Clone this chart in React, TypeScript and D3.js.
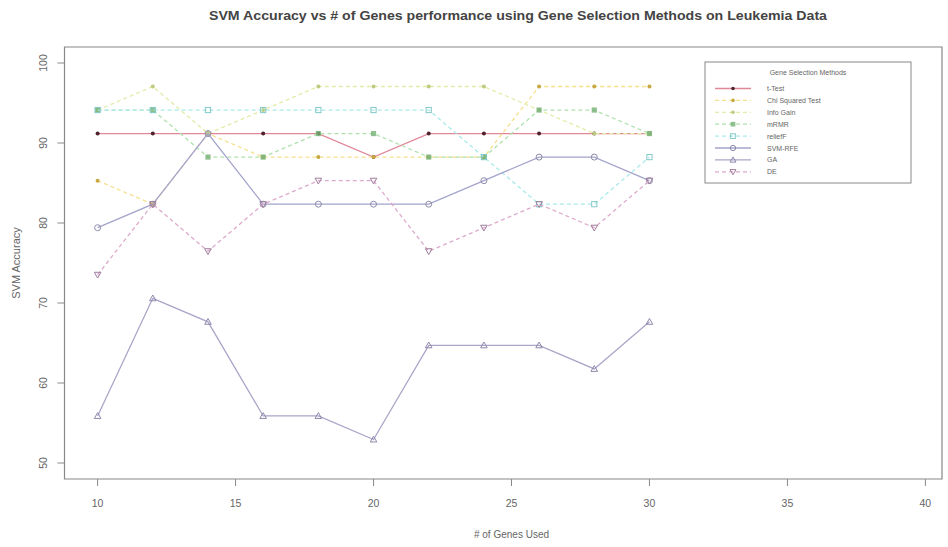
import React from "react";
import * as d3 from "d3";

const genes = [10, 12, 14, 16, 18, 20, 22, 24, 26, 28, 30];
const methods = ["t-Test", "Chi Squared Test", "Info Gain", "mRMR", "reliefF", "SVM-RFE", "GA", "DE"];

const tTest = [91.18, 91.18, 91.18, 91.18, 91.18, 88.24, 91.18, 91.18, 91.18, 91.18, 91.18];
const chiSquared = [85.29, 82.35, 91.18, 88.24, 88.24, 88.24, 88.24, 88.24, 97.06, 97.06, 97.06];
const infoGain = [94.12, 97.06, 91.18, 94.12, 97.06, 97.06, 97.06, 97.06, 94.12, 91.18, 91.18];
const mrmr = [94.12, 94.12, 88.24, 88.24, 91.18, 91.18, 88.24, 88.24, 94.12, 94.12, 91.18];
const relieff = [94.12, 94.12, 94.12, 94.12, 94.12, 94.12, 94.12, 88.24, 82.35, 82.35, 88.24];
const svmRfe = [79.41, 82.35, 91.18, 82.35, 82.35, 82.35, 82.35, 85.29, 88.24, 88.24, 85.29];
const ga = [55.88, 70.59, 67.65, 55.88, 55.88, 52.94, 64.71, 64.71, 64.71, 61.76, 67.65];
const de = [73.53, 82.35, 76.47, 82.35, 85.29, 85.29, 76.47, 79.41, 82.35, 79.41, 85.29];

const seriesValues = [tTest, chiSquared, infoGain, mrmr, relieff, svmRfe, ga, de];

const xTicks = [10, 15, 20, 25, 30, 35, 40];
const yTicks = [50, 60, 70, 80, 90, 100];

const lineColors = ["#e08898", "#f5e08c", "#e2eca8", "#b0e2b0", "#aaeaea", "#a4a4cc", "#aca4c8", "#ddaacc"];
const markerColors = ["#50222f", "#c8a840", "#bccc80", "#74b074", "#84c8c8", "#8c8cac", "#9088ac", "#a07c9c"];
const dashes = [null, "4,3", "4,3", "4,3", "4,3", null, null, "4,3"];
const shapes = ["dot", "dot", "dot", "fsquare", "square", "circle", "triangle", "dtriangle"];

function Marker({ shape, cx, cy, color, s = 1 }: any) {
  const r = 3 * s;
  if (shape === "dot") return <circle cx={cx} cy={cy} r={2 * s} fill={color} />;
  if (shape === "fsquare")
    return <rect x={cx - 2.6 * s} y={cy - 2.6 * s} width={5.2 * s} height={5.2 * s} fill={color} opacity={0.8} />;
  if (shape === "square")
    return <rect x={cx - 2.6 * s} y={cy - 2.6 * s} width={5.2 * s} height={5.2 * s} fill="none" stroke={color} strokeWidth={1} />;
  if (shape === "circle") return <circle cx={cx} cy={cy} r={r} fill="none" stroke={color} strokeWidth={1} />;
  const h = r * 1.1;
  if (shape === "triangle")
    return (
      <path d={`M${cx},${cy - h} L${cx + h},${cy + h * 0.75} L${cx - h},${cy + h * 0.75} Z`} fill="none" stroke={color} strokeWidth={1} />
    );
  return (
    <path d={`M${cx},${cy + h} L${cx + h},${cy - h * 0.75} L${cx - h},${cy - h * 0.75} Z`} fill="none" stroke={color} strokeWidth={1} />
  );
}

export default function App() {
  const W = 948;
  const H = 547;
  const x = d3.scaleLinear().domain([8.8, 41.2]).range([64.5, 958.5]);
  const y = d3.scaleLinear().domain([48, 102]).range([479, 47]);
  const line = d3
    .line<number>()
    .x((_, i) => x(genes[i]))
    .y((v) => y(v));

  const plotTop = y(102);
  const plotBottom = y(48);
  const plotLeft = x(8.8);
  const plotRight = 942;
  const axisColor = "#888";
  const textColor = "#666";
  const font = "'Liberation Sans', Arial, sans-serif";

  const legX = 705;
  const legY = 62;
  const legRow0 = 88.5;
  const legStep = 11.9;

  return (
    <svg width={W} height={H} style={{ position: "absolute", left: 0, top: 0, background: "#fff" }} fontFamily={font}>
      <rect x={0} y={0} width={W} height={H} fill="#fff" />
      <text x={518} y={20} textAnchor="middle" fontSize={12} fontWeight="bold" fill="#444" textLength={618} lengthAdjust="spacingAndGlyphs">
        SVM Accuracy vs # of Genes performance using Gene Selection Methods on Leukemia Data
      </text>

      <path
        d={`M${plotLeft},${plotTop} H${plotRight} V${plotBottom} H${plotLeft} Z`}
        fill="none"
        stroke={axisColor}
        strokeWidth={1.2}
      />

      {yTicks.map((t) => (
        <g key={"y" + t}>
          <line x1={plotLeft - 7} x2={plotLeft} y1={y(t)} y2={y(t)} stroke={axisColor} strokeWidth={1} />
          <text transform={`translate(${47},${y(t)}) rotate(-90)`} textAnchor="middle" fontSize={10.5} fill={textColor}>
            {t}
          </text>
        </g>
      ))}
      <text transform={`translate(20,${(plotTop + plotBottom) / 2}) rotate(-90)`} textAnchor="middle" fontSize={11} fill={textColor}>
        SVM Accuracy
      </text>

      {xTicks.map((t) => (
        <g key={"x" + t}>
          <line x1={x(t)} x2={x(t)} y1={plotBottom} y2={plotBottom + 7} stroke={axisColor} strokeWidth={1} />
          <text x={x(t)} y={507} textAnchor="middle" fontSize={10.5} fill={textColor}>
            {t}
          </text>
        </g>
      ))}
      <text x={x(25)} y={538} textAnchor="middle" fontSize={10} fill={textColor}>
        # of Genes Used
      </text>

      {seriesValues.map((vals, si) => (
        <g key={"s" + si}>
          <path
            d={line(vals) || ""}
            fill="none"
            stroke={lineColors[si]}
            strokeWidth={1.3}
            strokeDasharray={dashes[si] || undefined}
          />
          {vals.map((v, i) => (
            <Marker key={i} shape={shapes[si]} cx={x(genes[i])} cy={y(v)} color={markerColors[si]} />
          ))}
        </g>
      ))}

      <rect x={legX} y={legY} width={206} height={121} fill="#fff" stroke={axisColor} strokeWidth={1} />
      <text x={808} y={75} textAnchor="middle" fontSize={7} fill={textColor}>
        Gene Selection Methods
      </text>
      {methods.map((m, i) => {
        const ly = legRow0 + i * legStep;
        return (
          <g key={"l" + m}>
            <line
              x1={715}
              x2={751}
              y1={ly}
              y2={ly}
              stroke={lineColors[i]}
              strokeWidth={1.3}
              strokeDasharray={dashes[i] || undefined}
            />
            <Marker shape={shapes[i]} cx={733} cy={ly} color={markerColors[i]} s={0.9} />
            <text x={767} y={ly + 2.5} fontSize={7} fill={textColor}>
              {m}
            </text>
          </g>
        );
      })}
    </svg>
  );
}
